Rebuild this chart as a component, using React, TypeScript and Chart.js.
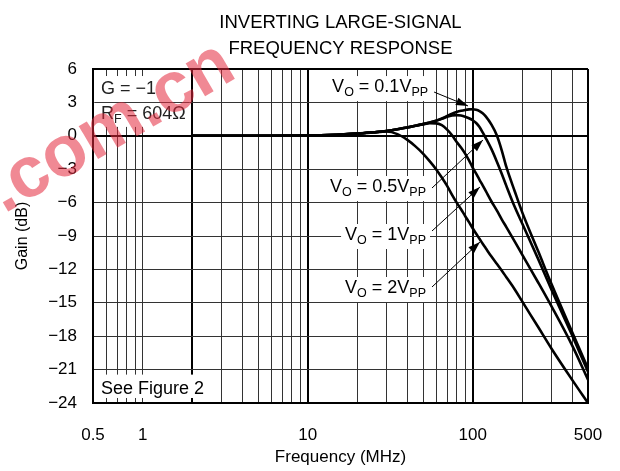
import React, { useEffect, useRef } from "react";
import { Chart, registerables } from "chart.js";

Chart.register(...registerables);

// ---- data ----
const frequenciesMHz = [2, 5, 10, 15, 20, 25, 30, 35, 40, 45, 50, 55, 60, 65, 70, 75, 80, 85, 90, 95, 100, 105, 110, 115, 120, 130, 140, 150, 160, 180, 200, 250, 300, 400, 500];

const gainVo01 = [0, 0, 0.02, 0.1, 0.2, 0.32, 0.43, 0.58, 0.75, 0.9, 1.05, 1.2, 1.35, 1.55, 1.78, 1.98, 2.13, 2.24, 2.32, 2.37, 2.38, 2.34, 2.22, 2.02, 1.75, 1.0, 0.05, -1.3, -2.8, -5.0, -6.9, -10.4, -13.3, -17.6, -20.9];
const gainVo05 = [0, 0, 0.02, 0.1, 0.2, 0.32, 0.43, 0.58, 0.75, 0.9, 1.05, 1.2, 1.35, 1.52, 1.7, 1.82, 1.86, 1.82, 1.72, 1.58, 1.4, 1.15, 0.8, 0.3, -0.2, -1.2, -2.3, -3.4, -4.5, -6.4, -7.9, -11.1, -13.8, -17.9, -21.2];
const gainVo1 = [0, 0, 0.02, 0.1, 0.2, 0.32, 0.43, 0.58, 0.75, 0.9, 1.03, 1.13, 1.12, 0.95, 0.55, 0.05, -0.55, -1.05, -1.6, -2.2, -2.85, -3.4, -3.95, -4.45, -4.95, -5.9, -6.7, -7.5, -8.2, -9.5, -10.7, -13.2, -15.3, -18.8, -21.9];
const gainVo2 = [0, 0, 0.02, 0.1, 0.2, 0.3, 0.38, 0.15, -0.35, -0.95, -1.6, -2.3, -3.0, -3.75, -4.5, -5.3, -6.0, -6.6, -7.2, -7.75, -8.3, -8.8, -9.25, -9.7, -10.1, -10.85, -11.5, -12.1, -12.7, -13.8, -14.9, -17.2, -19.1, -21.9, -24];

const seriesLabels = ["VO = 0.1VPP", "VO = 0.5VPP", "VO = 1VPP", "VO = 2VPP"];
const seriesValues = [gainVo01, gainVo05, gainVo1, gainVo2];

const xGridTicks = [0.5, 0.6, 0.7, 0.8, 0.9, 1, 2, 3, 4, 5, 6, 7, 8, 9, 10, 20, 30, 40, 50, 60, 70, 80, 90, 100, 200, 300, 400, 500];
const xTickLabels = [0.5, 1, 10, 100, 500];
const xMajorLines = [2, 10, 100, 500];
const yTicks = [-24, -21, -18, -15, -12, -9, -6, -3, 0, 3, 6];

const titleLines = ["INVERTING LARGE-SIGNAL", "FREQUENCY RESPONSE"];
const watermarkText = ".com.cn";

// annotation anchors in data units (MHz, dB)
const curveNotes = [
  { parts: [["V", 0], ["O", 1], [" = 0.1V", 0], ["PP", 1]], baseline: 3.93, tail: [60, 3.93], tip: [93.7, 2.68] },
  { parts: [["V", 0], ["O", 1], [" = 0.5V", 0], ["PP", 1]], baseline: -5.05, tail: [58.3, -4.69], tip: [115.5, -0.38] },
  { parts: [["V", 0], ["O", 1], [" = 1V", 0], ["PP", 1]], baseline: -9.36, tail: [58.3, -8.55], tip: [110.7, -4.6] },
  { parts: [["V", 0], ["O", 1], [" = 2V", 0], ["PP", 1]], baseline: -14.12, tail: [58.3, -13.58], tip: [110.7, -9.54] },
];
const infoLines = [
  { parts: [["G = \u22121", 0]], baseline: 3.75 },
  { parts: [["R", 0], ["F", 1], [" = 604\u03A9", 0]], baseline: 1.55 },
];
const infoBox = { fMax: 1.93, gTop: 5.37, gBottom: 0.8 };
const seeFigure = { text: "See Figure 2", baseline: -23.15 };
const seeBox = { fMax: 2.6, gTop: -21.45, gBottom: -23.55 };

const FONT = '"Liberation Sans", Arial, Helvetica, sans-serif';
const BASE = `18px ${FONT}`;
const SUB = `12.5px ${FONT}`;

const fmt = (v: number) => (v < 0 ? "\u2212" + Math.abs(v) : String(v));

function align(chart: any, p: number, w: number) {
  const d = chart.currentDevicePixelRatio || 1;
  const h = w / 2;
  return Math.round((p - h) * d) / d + h;
}

function drawRich(ctx: CanvasRenderingContext2D, parts: any[], x: number, y: number, right: boolean) {
  let w = 0;
  for (const [t, s] of parts) {
    ctx.font = s ? SUB : BASE;
    w += ctx.measureText(t).width;
  }
  let cx = right ? x - w : x;
  ctx.textBaseline = "alphabetic";
  ctx.textAlign = "left";
  for (const [t, s] of parts) {
    ctx.font = s ? SUB : BASE;
    ctx.fillText(t, cx, s ? y + 4 : y);
    cx += ctx.measureText(t).width;
  }
  return w;
}

function arrow(ctx: CanvasRenderingContext2D, x1: number, y1: number, x2: number, y2: number) {
  ctx.beginPath();
  ctx.moveTo(x1, y1);
  ctx.lineTo(x2, y2);
  ctx.lineWidth = 1;
  ctx.strokeStyle = "#000";
  ctx.stroke();
  const a = Math.atan2(y2 - y1, x2 - x1);
  const L = 12, W = 4;
  ctx.beginPath();
  ctx.moveTo(x2, y2);
  ctx.lineTo(x2 - L * Math.cos(a) + W * Math.sin(a), y2 - L * Math.sin(a) - W * Math.cos(a));
  ctx.lineTo(x2 - L * Math.cos(a) - W * Math.sin(a), y2 - L * Math.sin(a) + W * Math.cos(a));
  ctx.closePath();
  ctx.fillStyle = "#000";
  ctx.fill();
}

const notesPlugin = {
  id: "notes",
  beforeDatasetsDraw(chart: any) {
    const { ctx, chartArea: a, scales } = chart;
    const x = scales.x, y = scales.y;
    ctx.save();
    for (const b of [infoBox, seeBox]) {
      const x1 = a.left + 1.5;
      const x2 = x.getPixelForValue(b.fMax);
      const y1 = y.getPixelForValue(b.gTop);
      const y2 = y.getPixelForValue(b.gBottom);
      ctx.fillStyle = "#fff";
      ctx.fillRect(x1, y1, x2 - x1, y2 - y1);
      for (const v of yTicks) {
        if (v < b.gTop && v > b.gBottom) {
          const py = align(chart, y.getPixelForValue(v), 1);
          ctx.beginPath();
          ctx.moveTo(x1, py);
          ctx.lineTo(x2, py);
          ctx.lineWidth = 1;
          ctx.strokeStyle = "#3a3a3a";
          ctx.stroke();
        }
      }
    }
    ctx.restore();
  },
  afterDatasetsDraw(chart: any) {
    const { ctx, chartArea: a, scales } = chart;
    const x = scales.x, y = scales.y;
    ctx.save();
    ctx.fillStyle = "#222";
    for (const l of infoLines) {
      drawRich(ctx, l.parts, a.left + 8, y.getPixelForValue(l.baseline), false);
    }
    ctx.fillStyle = "#000";
    ctx.font = BASE;
    ctx.textAlign = "left";
    ctx.textBaseline = "alphabetic";
    ctx.fillText(seeFigure.text, a.left + 8, y.getPixelForValue(seeFigure.baseline));

    for (const n of curveNotes) {
      const tx = x.getPixelForValue(n.tail[0]);
      const ty = y.getPixelForValue(n.tail[1]);
      const by = y.getPixelForValue(n.baseline);
      let w = 0;
      for (const [t, s] of n.parts as any[]) {
        ctx.font = s ? SUB : BASE;
        w += ctx.measureText(t).width;
      }
      const rx = tx - 8;
      ctx.fillStyle = "#fff";
      ctx.fillRect(rx - w - 4, by - 16, w + 8, 25);
      ctx.fillStyle = "#000";
      drawRich(ctx, n.parts, rx, by, true);
      arrow(ctx, tx - 2, ty, x.getPixelForValue(n.tip[0]), y.getPixelForValue(n.tip[1]));
    }
    ctx.restore();
  },
  afterDraw(chart: any) {
    const { ctx, chartArea: a } = chart;
    ctx.save();
    ctx.fillStyle = "#000";
    ctx.font = `18.5px ${FONT}`;
    ctx.textAlign = "center";
    ctx.textBaseline = "alphabetic";
    const cx = (a.left + a.right) / 2;
    ctx.fillText(titleLines[0], cx, 28);
    ctx.fillText(titleLines[1], cx, 54);
    // watermark
    ctx.translate(4, 214);
    ctx.rotate(-0.53);
    ctx.font = `bold 72px ${FONT}`;
    ctx.fillStyle = "rgba(228, 40, 60, 0.55)";
    ctx.textAlign = "left";
    ctx.fillText(watermarkText, 0, 0);
    ctx.restore();
  },
};

export default function App() {
  const ref = useRef<HTMLCanvasElement>(null);
  useEffect(() => {
    document.body.style.margin = "0";
    const canvas = ref.current!;
    const chart = new Chart(canvas, {
      type: "line",
      data: {
        datasets: seriesValues.map((vals, k) => ({
          label: seriesLabels[k],
          data: frequenciesMHz.map((f, i) => ({ x: f, y: vals[i] })),
          borderColor: "#000",
          borderWidth: 2.6,
          pointRadius: 0,
          fill: false,
          cubicInterpolationMode: "monotone" as const,
        })),
      },
      options: {
        responsive: false,
        animation: false,
        layout: { padding: { top: 69, right: 32, left: 0, bottom: 0 } },
        plugins: { legend: { display: false }, title: { display: false }, tooltip: { enabled: false } },
        scales: {
          x: {
            type: "logarithmic",
            min: 0.5,
            max: 500,
            afterBuildTicks: (s: any) => {
              s.ticks = xGridTicks.map((v) => ({ value: v }));
            },
            afterFit: (s: any) => {
              s.height = 68;
              s.paddingLeft = 0;
              s.paddingRight = 0;
            },
            ticks: {
              autoSkip: false,
              maxRotation: 0,
              padding: 22,
              color: "#000",
              font: { family: FONT, size: 17 },
              callback: (v: any) => (xTickLabels.includes(Number(v)) ? String(v) : ""),
            },
            grid: {
              drawTicks: false,
              color: (c: any) => (xMajorLines.includes(c.tick?.value) ? "#000" : "#333"),
              lineWidth: (c: any) => (xMajorLines.includes(c.tick?.value) ? 2 : 1),
            },
            border: { color: "#000", width: 2 },
            title: {
              display: true,
              text: "Frequency (MHz)",
              color: "#000",
              font: { family: FONT, size: 17 },
              padding: { top: 0, bottom: 3 },
            },
          },
          y: {
            type: "linear",
            min: -24,
            max: 6,
            afterBuildTicks: (s: any) => {
              s.ticks = yTicks.map((v) => ({ value: v }));
            },
            afterFit: (s: any) => {
              s.width = 93;
            },
            ticks: {
              padding: 16,
              color: "#000",
              font: { family: FONT, size: 17 },
              callback: (v: any) => fmt(Number(v)),
            },
            grid: {
              drawTicks: false,
              color: (c: any) => (c.tick?.value === 0 || c.tick?.value === 6 ? "#000" : "#333"),
              lineWidth: (c: any) => (c.tick?.value === 0 || c.tick?.value === 6 ? 2 : 1),
            },
            border: { color: "#000", width: 2 },
            title: {
              display: true,
              text: "Gain (dB)",
              color: "#000",
              font: { family: FONT, size: 16 },
              padding: { top: 13, bottom: 0 },
            },
          },
        },
      },
      plugins: [notesPlugin],
    });
    return () => chart.destroy();
  }, []);
  return <canvas ref={ref} width={620} height={471} style={{ display: "block" }} />;
}
